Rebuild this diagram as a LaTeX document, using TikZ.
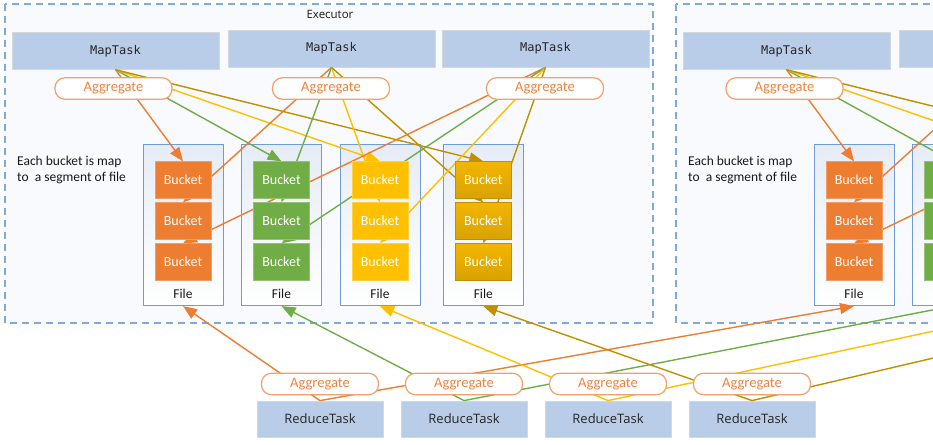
\documentclass[tikz,border=0pt]{standalone}
\usepackage{fontspec}
\setmainfont{Carlito}
\newfontfamily\monof{DejaVu Sans Mono}
\newfontfamily\uif{Open Sans}
\usetikzlibrary{arrows.meta}
\definecolor{corange}{HTML}{ED7D31}
\definecolor{cgreen}{HTML}{70AD47}
\definecolor{cyellow}{HTML}{FFC000}
\definecolor{cgold}{HTML}{BF9000}
\definecolor{goldtop}{HTML}{F2B600}
\definecolor{goldbot}{HTML}{D9A200}
\definecolor{dashblue}{HTML}{7EA9D8}
\definecolor{execfill}{HTML}{F8FAFD}
\definecolor{taskfill}{HTML}{BACDE8}
\definecolor{taskborder}{HTML}{D3D8DF}
\definecolor{fileblue}{HTML}{6F9DD3}
\definecolor{filetop}{HTML}{E6ECF6}
\definecolor{aggborder}{HTML}{F3A06B}
\definecolor{aggtext}{HTML}{EF8240}
\pgfdeclarelayer{back}
\pgfdeclarelayer{mid}
\pgfsetlayers{back,mid,main}
\tikzset{
  exec/.style={draw=dashblue, dash pattern=on 7pt off 5pt, line width=1.3pt, fill=execfill},
  task/.style={draw=taskborder, fill=taskfill, minimum width=207pt, minimum height=37pt, inner sep=0pt, line width=0.8pt, text=black!85, font=\monof\fontsize{12}{14}\selectfont},
  rtask/.style={task, minimum width=126pt, minimum height=36pt, font=\uif\fontsize{13}{15}\selectfont},
  filebox/.style={draw=fileblue, line width=1pt, top color=filetop, bottom color=white, minimum width=80pt, minimum height=161pt, inner sep=0pt},
  bucket/.style={minimum width=56pt, minimum height=36.5pt, inner sep=0pt, text=white, font=\fontsize{14}{16}\selectfont, line width=0.8pt},
  bk1/.style={bucket, fill=corange, draw=corange!75!white},
  bk2/.style={bucket, fill=cgreen, draw=cgreen!75!white},
  bk3/.style={bucket, fill=cyellow, draw=cyellow!75!white},
  bk4/.style={bucket, top color=goldtop, bottom color=goldbot, draw=cgold},
  agg/.style={draw=aggborder, fill=white, line width=1.2pt, rounded corners=10pt, minimum width=117pt, minimum height=21.5pt, inner sep=0pt, text=aggtext, font=\fontsize{14.5}{16}\selectfont},
  link/.style={line width=1.4pt, -{Triangle[length=14pt,width=11pt]}},
  plain/.style={inner sep=0pt, text=black!90, font=\fontsize{13.5}{16}\selectfont},
}
\begin{document}
\begin{tikzpicture}[x=1pt,y=-1pt]
\useasboundingbox (0,0) rectangle (933,444);
\begin{pgfonlayer}{back}
\fill[white] (0,0) rectangle (933,444);
\end{pgfonlayer}
\foreach \dx/\s in {0/L,671/R}{
  \begin{pgfonlayer}{back}
    \path[exec] (5+\dx,4) rectangle (653+\dx,323);
    \node[plain, font=\uif\fontsize{11.5}{13}\selectfont] (exlabel\s) at (330+\dx,14) {Executor};
    \node[task] (map1\s) at (115.5+\dx,50.8) {MapTask};
    \node[task] (map2\s) at (331.5+\dx,48.5) {MapTask};
    \node[task] (map3\s) at (545.5+\dx,48.5) {MapTask};
    \node[plain, anchor=west, align=left] (note\s) at (17+\dx,170) {Each bucket is map\\to~ a segment of file};
    \foreach \k/\cx in {1/183,2/281.5,3/380,4/483.3}{
      \node[filebox] (file\k\s) at (\cx+\dx,225.1) {};
      \node[plain] (flabel\k\s) at (\cx+\dx,294) {File};
    }
  \end{pgfonlayer}
  \foreach \k/\cx in {1/183,2/281.5,3/380,4/483.3}{
    \foreach \j/\cy in {1/180,2/221,3/262}{
      \node[bk\k] (bucket\k\j\s) at (\cx+\dx,\cy) {Bucket};
    }
  }
  \node[agg] (agg1\s) at (113.5+\dx,88.5) {Aggregate};
  \node[agg] (agg2\s) at (331+\dx,88.5) {Aggregate};
  \node[agg] (agg3\s) at (545+\dx,88.5) {Aggregate};
}
\begin{pgfonlayer}{mid}
\foreach \s in {L,R}{
  \foreach \i in {1,2,3}{
    \foreach \k/\col in {1/corange,2/cgreen,3/cyellow,4/cgold}{
      \draw[link,\col] (map\i\s.south) -- (bucket\k\i\s.north);
    }
  }
}
\end{pgfonlayer}
\foreach \k/\cx in {1/320,2/464,3/608,4/752}{
  \begin{pgfonlayer}{back}
    \node[rtask] (red\k) at (\cx,419) {ReduceTask};
  \end{pgfonlayer}
  \node[agg] (ragg\k) at (\cx,384) {Aggregate};
}
\begin{pgfonlayer}{mid}
\foreach \k/\col in {1/corange,2/cgreen,3/cyellow,4/cgold}{
  \draw[link,\col] (red\k.north) -- (file\k L.south);
  \draw[link,\col] (red\k.north) -- (file\k R.south);
}
\end{pgfonlayer}
\end{tikzpicture}
\end{document}
